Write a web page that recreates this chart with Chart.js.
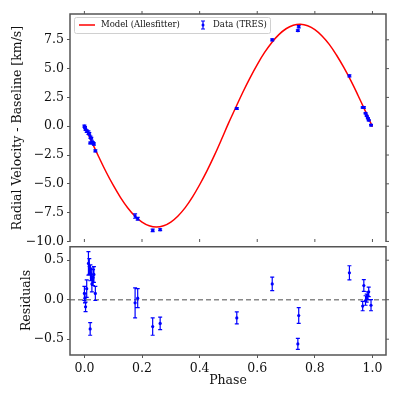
<!DOCTYPE html>
<html>
<head>
<meta charset="utf-8">
<script src="https://cdn.jsdelivr.net/npm/chart.js@4.4.1/dist/chart.umd.min.js"></script>
<style>
  body { margin: 0; background: #fff; }
  #wrap { position: relative; width: 400px; height: 400px; }
  #rv-chart { position: absolute; left: 0; top: 0; }
  #res-chart { position: absolute; left: 0; top: 242px; }
</style>
</head>
<body>
<div id="wrap">
  <canvas id="rv-chart" width="400" height="252"></canvas>
  <canvas id="res-chart" width="400" height="158"></canvas>
</div>
<script>
//data
const PHASE_TICKS = [0.0, 0.2, 0.4, 0.6, 0.8, 1.0];
const RV_TICKS = [-10, -7.5, -5, -2.5, 0, 2.5, 5, 7.5];
const RES_TICKS = [-0.5, 0, 0.5];

// model curve
const MODEL_PHASE = [
  0.0, 0.025, 0.05, 0.075, 0.1, 0.125, 0.15, 0.175, 0.2, 0.225,
  0.25, 0.275, 0.3, 0.325, 0.35, 0.375, 0.4, 0.425, 0.45, 0.475,
  0.5, 0.525, 0.55, 0.575, 0.6, 0.625, 0.65, 0.675, 0.7, 0.725,
  0.75, 0.775, 0.8, 0.825, 0.85, 0.875, 0.9, 0.925, 0.95, 0.975, 1.0,
];
const MODEL_RV = [
  0.05, -1.33, -2.67, -3.95, -5.12, -6.17, -7.07, -7.79, -8.32, -8.64,
  -8.75, -8.64, -8.32, -7.79, -7.07, -6.15, -5.08, -3.9, -2.6, -1.2,
  0.25, 1.6, 2.95, 4.2, 5.35, 6.38, 7.25, 7.95, 8.46, 8.76,
  8.85, 8.72, 8.38, 7.83, 7.1, 6.18, 5.12, 3.95, 2.67, 1.33, -0.05,
];

// TRES data
const DATA_PHASE = [
  0.0, 0.002, 0.004, 0.008, 0.014, 0.017, 0.02, 0.021, 0.024, 0.026,
  0.03, 0.033, 0.038, 0.176, 0.185, 0.237, 0.263, 0.529, 0.652, 0.741,
  0.744, 0.92, 0.966, 0.97, 0.976, 0.98, 0.984, 0.987, 0.995,
];
const DATA_RV = [
  0.0, -0.1, -0.3, -0.42, -0.55, -0.65, -1.45, -0.95, -1.05, -1.36,
  -1.45, -1.55, -2.14, -7.8, -8.03, -9.04, -8.98, 1.54, 7.5, 8.29,
  8.63, 4.37, 1.63, 1.63, 1.13, 0.9, 0.7, 0.52, 0.09,
];
const DATA_RES = [
  0.08, 0.02, -0.09, 0.14, 0.46, 0.42, -0.37, 0.34, 0.32, 0.2,
  0.28, 0.32, 0.08, -0.04, 0.02, -0.34, -0.3, -0.23, 0.2, -0.56,
  -0.2, 0.34, -0.08, 0.18, -0.01, 0.02, 0.05, 0.1, -0.07,
];
const DATA_ERR = [
  0.09, 0.06, 0.06, 0.11, 0.15, 0.1, 0.08, 0.1, 0.08, 0.1,
  0.1, 0.1, 0.09, 0.19, 0.12, 0.11, 0.08, 0.075, 0.085, 0.07,
  0.1, 0.09, 0.06, 0.075, 0.06, 0.05, 0.05, 0.06, 0.07,
];

const LINE = "#555";
const FONT = "'DejaVu Serif', serif";
Chart.defaults.font.family = FONT;
Chart.defaults.font.size = 12.5;
Chart.defaults.color = "#111";

const fmt = (v) => Number(v).toFixed(1).replace("-", "\u2212");
const setTicks = (vals) => (s) => {
  s.ticks = vals.map((v) => ({ value: v }));
};
const fixWidth = (s) => {
  s.width = 70;
  s.paddingTop = 0;
  s.paddingBottom = 0;
};

// frame + mirrored ticks
const frame = {
  id: "frame",
  afterDraw(chart, args, opts) {
    const { ctx, chartArea: a, scales } = chart;
    const x = scales.x, y = scales.y;
    ctx.save();
    ctx.strokeStyle = LINE;
    ctx.lineWidth = 1;
    ctx.beginPath();
    y.ticks.forEach((t) => {
      const py = y.getPixelForValue(t.value);
      ctx.moveTo(a.right, py);
      ctx.lineTo(a.right + 3, py);
    });
    if (opts.top) {
      PHASE_TICKS.forEach((v) => {
        const px = x.getPixelForValue(v);
        ctx.moveTo(px, a.top);
        ctx.lineTo(px, a.top - 3);
        ctx.moveTo(px, a.bottom);
        ctx.lineTo(px, a.bottom - 3);
      });
    }
    ctx.stroke();
    ctx.lineWidth = 1.5;
    ctx.beginPath();
    const t = opts.top ? a.top : a.top + 0.75;
    if (opts.bottomEdge) {
      ctx.rect(a.left, t, a.right - a.left, a.bottom - t);
    } else {
      ctx.moveTo(a.left, a.bottom);
      ctx.lineTo(a.left, t);
      ctx.lineTo(a.right, t);
      ctx.lineTo(a.right, a.bottom);
    }
    ctx.stroke();
    ctx.restore();
  },
};

// vertical error bars with caps
const errorBars = {
  id: "errorBars",
  afterDatasetsDraw(chart) {
    const { ctx } = chart;
    const y = chart.scales.y;
    chart.data.datasets.forEach((ds, i) => {
      if (!ds.errors) return;
      const meta = chart.getDatasetMeta(i);
      ctx.save();
      ctx.strokeStyle = ds.borderColor;
      ctx.lineWidth = 1.2;
      ctx.beginPath();
      meta.data.forEach((pt, j) => {
        const v = ds.data[j].y;
        const e = ds.errors[j];
        const y1 = y.getPixelForValue(v - e);
        const y2 = y.getPixelForValue(v + e);
        ctx.moveTo(pt.x, y1);
        ctx.lineTo(pt.x, y2);
        ctx.moveTo(pt.x - 2, y1);
        ctx.lineTo(pt.x + 2, y1);
        ctx.moveTo(pt.x - 2, y2);
        ctx.lineTo(pt.x + 2, y2);
      });
      ctx.stroke();
      ctx.restore();
    });
  },
};

// legend box in the top left corner
const legendBox = {
  id: "legendBox",
  afterDraw(chart) {
    const { ctx, chartArea: a } = chart;
    const l = a.left + 4, t = a.top + 3, w = 196, h = 16;
    const cy = t + h / 2;
    ctx.save();
    ctx.fillStyle = "rgba(255,255,255,0.8)";
    ctx.strokeStyle = "#d0d0d0";
    ctx.lineWidth = 1;
    ctx.beginPath();
    ctx.roundRect(l + 0.5, t + 0.5, w, h, 2);
    ctx.fill();
    ctx.stroke();
    ctx.strokeStyle = "#ff0000";
    ctx.lineWidth = 1.5;
    ctx.beginPath();
    ctx.moveTo(l + 5, cy);
    ctx.lineTo(l + 21, cy);
    ctx.stroke();
    const ex = l + 129;
    ctx.strokeStyle = "#0000ff";
    ctx.lineWidth = 1.2;
    ctx.beginPath();
    ctx.moveTo(ex, cy - 4);
    ctx.lineTo(ex, cy + 4);
    ctx.moveTo(ex - 2, cy - 4);
    ctx.lineTo(ex + 2, cy - 4);
    ctx.moveTo(ex - 2, cy + 4);
    ctx.lineTo(ex + 2, cy + 4);
    ctx.stroke();
    ctx.fillStyle = "#0000ff";
    ctx.beginPath();
    ctx.arc(ex, cy, 1.5, 0, Math.PI * 2);
    ctx.fill();
    ctx.fillStyle = "#111";
    ctx.font = "8.5px " + FONT;
    ctx.textBaseline = "middle";
    ctx.fillText("Model (Allesfitter)", l + 27, cy);
    ctx.fillText("Data (TRES)", l + 139, cy);
    ctx.restore();
  },
};

// dashed zero line in the residual panel
const zeroLine = {
  id: "zeroLine",
  beforeDatasetsDraw(chart) {
    const { ctx, chartArea: a } = chart;
    const py = chart.scales.y.getPixelForValue(0);
    ctx.save();
    ctx.strokeStyle = "#888";
    ctx.lineWidth = 1.5;
    ctx.setLineDash([5, 3]);
    ctx.beginPath();
    ctx.moveTo(a.left, py);
    ctx.lineTo(a.right, py);
    ctx.stroke();
    ctx.restore();
  },
};

const xCommon = {
  type: "linear",
  min: -0.05,
  max: 1.047,
  afterBuildTicks: setTicks(PHASE_TICKS),
};

//RV panel
const rvCtx = document.getElementById("rv-chart");
new Chart(rvCtx, {
  data: {
    datasets: [
      {
        type: "scatter",
        label: "Data (TRES)",
        data: DATA_PHASE.map((p, i) => ({ x: p, y: DATA_RV[i] })),
        errors: DATA_ERR,
        borderColor: "#0000ff",
        backgroundColor: "#0000ff",
        pointRadius: 1.6,
        pointBorderWidth: 0,
        order: 0,
      },
      {
        type: "line",
        label: "Model (Allesfitter)",
        data: MODEL_PHASE.map((p, i) => ({ x: p, y: MODEL_RV[i] })),
        borderColor: "#ff0000",
        borderWidth: 1.5,
        pointRadius: 0,
        tension: 0.4,
        fill: false,
        order: 1,
      },
    ],
  },
  options: {
    responsive: false,
    animation: false,
    devicePixelRatio: 1,
    layout: { padding: { top: 14, right: 14, bottom: 10, left: 0 } },
    plugins: {
      legend: { display: false },
      tooltip: { enabled: false },
      frame: { top: true, bottomEdge: false },
    },
    scales: {
      x: Object.assign({ display: false }, xCommon),
      y: {
        min: -10.05,
        max: 9.74,
        afterBuildTicks: setTicks(RV_TICKS),
        afterFit: fixWidth,
        border: { display: false },
        grid: { drawOnChartArea: false, tickLength: 3, color: LINE },
        ticks: { padding: 3, callback: fmt },
        title: {
          display: true,
          text: "Radial Velocity - Baseline [km/s]",
          padding: { top: 10, bottom: 0 },
        },
      },
    },
  },
  plugins: [frame, errorBars, legendBox],
});

//Residual panel
const resCtx = document.getElementById("res-chart");
new Chart(resCtx, {
  type: "scatter",
  data: {
    datasets: [
      {
        label: "Residuals",
        data: DATA_PHASE.map((p, i) => ({ x: p, y: DATA_RES[i] })),
        errors: DATA_ERR,
        borderColor: "#0000ff",
        backgroundColor: "#0000ff",
        pointRadius: 1.6,
        pointBorderWidth: 0,
      },
    ],
  },
  options: {
    responsive: false,
    animation: false,
    devicePixelRatio: 1,
    layout: { padding: { top: 0, right: 14, bottom: 0, left: 0 } },
    plugins: {
      legend: { display: false },
      tooltip: { enabled: false },
      frame: { top: false, bottomEdge: true },
    },
    scales: {
      x: Object.assign({}, xCommon, {
        afterFit: (s) => {
          s.height = 45;
          s.paddingLeft = 0;
          s.paddingRight = 0;
        },
        border: { display: false },
        grid: { drawOnChartArea: false, tickLength: 3, color: LINE },
        ticks: { padding: 3, callback: fmt, maxRotation: 0 },
        title: {
          display: true,
          text: "Phase",
          padding: { top: 0, bottom: 12 },
        },
      }),
      y: {
        min: -0.7,
        max: 0.68,
        afterBuildTicks: setTicks(RES_TICKS),
        afterFit: fixWidth,
        border: { display: false },
        grid: { drawOnChartArea: false, tickLength: 3, color: LINE },
        ticks: { padding: 3, callback: fmt },
        title: {
          display: true,
          text: "Residuals",
          padding: { top: 19, bottom: 0 },
        },
      },
    },
  },
  plugins: [zeroLine, frame, errorBars],
});
</script>
</body>
</html>
